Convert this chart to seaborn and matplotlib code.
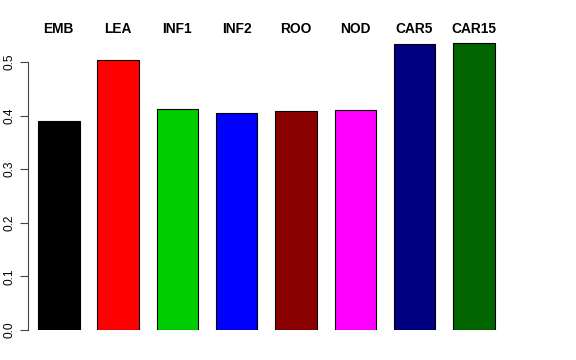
import pandas as pd
import matplotlib
matplotlib.use("Agg")
import matplotlib.pyplot as plt
import matplotlib.transforms as mtransforms
import seaborn as sns

groups = ["EMB", "LEA", "INF1", "INF2", "ROO", "NOD", "CAR5", "CAR15"]
values = [0.390, 0.504, 0.412, 0.405, 0.409, 0.410, 0.534, 0.536]
colors = ["#000000", "#FF0000", "#00CD00", "#0000FF", "#8B0000", "#FF00FF", "#000080", "#006400"]

df = pd.DataFrame({"group": groups, "value": values})

sns.set_style("white")
plt.rcParams["font.family"] = ["Liberation Sans", "DejaVu Sans"]
plt.rcParams["text.color"] = "black"
plt.rcParams["ytick.color"] = "black"

W, H = 576, 360
fig = plt.figure(figsize=(W / 100, H / 100), dpi=100)
left, right, bottom, top = 28, 546, 330, 20
ax = fig.add_axes([left / W, 1 - bottom / H, (right - left) / W, (bottom - top) / H])

sns.barplot(data=df, x="group", y="value", hue="group", palette=colors,
            saturation=1, width=0.7, edgecolor="black", linewidth=0.8,
            legend=False, ax=ax)

# pixel scale: 59.3 px per category, 536 px per unit on y
px_x = 59.3
x0 = -0.35 - (38 - left) / px_x
ax.set_xlim(x0, x0 + (right - left) / px_x)
ax.set_ylim(0, (bottom - top) / 536)

ax.set_xticks([])
ax.set_xlabel("")
ax.set_ylabel("")
ax.set_yticks([0.0, 0.1, 0.2, 0.3, 0.4, 0.5])
ax.set_yticklabels(["0.0", "0.1", "0.2", "0.3", "0.4", "0.5"], rotation=90,
                   va="center", fontsize=8.6, color="black")
ax.tick_params(axis="y", left=True, length=6, width=0.8, color="#444444", pad=3)

for s in ["top", "right", "bottom"]:
    ax.spines[s].set_visible(False)
ax.spines["left"].set_bounds(0, 0.5)
ax.spines["left"].set_color("#444444")
ax.spines["left"].set_linewidth(0.8)

trans = mtransforms.blended_transform_factory(ax.transData, fig.transFigure)
for i, g in enumerate(groups):
    ax.text(i, 1 - 29 / H, g, transform=trans, ha="center", va="center",
            fontsize=9.9, fontweight="bold", color="black")

fig.savefig("out.png", dpi=100)
